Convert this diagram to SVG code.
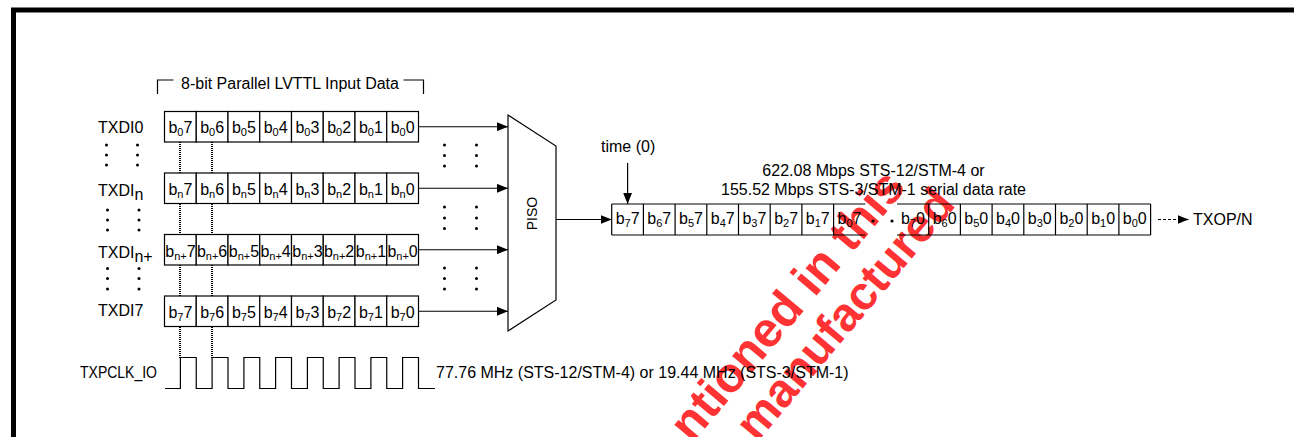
<svg xmlns="http://www.w3.org/2000/svg" width="1294" height="437" viewBox="0 0 1294 437">
<defs>
<style>
text{font-family:"Liberation Sans",Arial,sans-serif;font-size:16px;fill:#000}
.c{text-anchor:middle}
.s{font-size:11px}
.sm{font-size:14px}
.cell{fill:#fff;stroke:#000;stroke-width:1.2}
.ln{fill:none;stroke:#000;stroke-width:1.2}
.dot{fill:#000}
.vd{stroke:#000;stroke-width:2;stroke-dasharray:1 1;shape-rendering:crispEdges}
.wm{font-family:"Liberation Sans",Arial,sans-serif;font-weight:bold;font-size:47px;fill:#ff3333}
</style>
<marker id="ah" viewBox="0 0 10 8" refX="10" refY="4" markerWidth="11" markerHeight="9" markerUnits="userSpaceOnUse" orient="auto"><path d="M0,0 L10,4 L0,8 Z" fill="#000"/></marker>
</defs>
<rect width="1294" height="437" fill="#fff"/>
<g id="watermark">
<text class="wm" transform="translate(692,444) rotate(-50)" style="font-size:49px">ntioned in this</text>
<text class="wm" transform="translate(757,443) rotate(-50)">manufactured</text>
</g>
<path d="M13.5 437 V10 H1294" fill="none" stroke="#000" stroke-width="5"/>
<g id="title">
<path class="ln" d="M157.5 94 V80 H173.5 M403.5 80 H423.5 V94"/>
<text class="c" x="290" y="88.5">8-bit Parallel LVTTL Input Data</text>
</g>
<g id="labels">
<text x="98" y="133.3">TXDI0</text>
<text x="98" y="196">TXDI<tspan dy="4">n</tspan></text>
<text x="98" y="257.5">TXDI<tspan dy="4">n+</tspan></text>
<text x="98" y="315.5">TXDI7</text>
<text x="80" y="378" textLength="77" lengthAdjust="spacingAndGlyphs">TXPCLK_IO</text>
</g>
<g id="left-dots" class="dot">
<circle cx="106.5" cy="145" r="1.5"/><circle cx="106.5" cy="155" r="1.5"/><circle cx="106.5" cy="165" r="1.5"/>
<circle cx="137.5" cy="145" r="1.5"/><circle cx="137.5" cy="155" r="1.5"/><circle cx="137.5" cy="165" r="1.5"/>
<circle cx="107.5" cy="210" r="1.5"/><circle cx="107.5" cy="220" r="1.5"/><circle cx="107.5" cy="230" r="1.5"/>
<circle cx="139" cy="210" r="1.5"/><circle cx="139" cy="220" r="1.5"/><circle cx="139" cy="230" r="1.5"/>
<circle cx="107.5" cy="268.5" r="1.5"/><circle cx="107.5" cy="278.5" r="1.5"/><circle cx="107.5" cy="289" r="1.5"/>
<circle cx="139" cy="268.5" r="1.5"/><circle cx="139" cy="278.5" r="1.5"/><circle cx="139" cy="289" r="1.5"/>
</g>
<g id="right-dots" class="dot">
<circle cx="444.5" cy="145" r="1.5"/><circle cx="444.5" cy="155.5" r="1.5"/><circle cx="444.5" cy="166" r="1.5"/>
<circle cx="476.5" cy="145" r="1.5"/><circle cx="476.5" cy="155.5" r="1.5"/><circle cx="476.5" cy="166" r="1.5"/>
<circle cx="444.5" cy="207" r="1.5"/><circle cx="444.5" cy="218" r="1.5"/><circle cx="444.5" cy="228.5" r="1.5"/>
<circle cx="476.5" cy="207" r="1.5"/><circle cx="476.5" cy="218" r="1.5"/><circle cx="476.5" cy="228.5" r="1.5"/>
<circle cx="444.5" cy="268" r="1.5"/><circle cx="444.5" cy="278.5" r="1.5"/><circle cx="444.5" cy="289" r="1.5"/>
<circle cx="476.5" cy="268" r="1.5"/><circle cx="476.5" cy="278.5" r="1.5"/><circle cx="476.5" cy="289" r="1.5"/>
</g>
<g id="row-TXDI0">
<rect class="cell" x="164.5" y="111.5" width="31.75" height="30.5"/><rect class="cell" x="196.25" y="111.5" width="31.75" height="30.5"/><rect class="cell" x="228" y="111.5" width="31.75" height="30.5"/><rect class="cell" x="259.75" y="111.5" width="31.75" height="30.5"/><rect class="cell" x="291.5" y="111.5" width="31.75" height="30.5"/><rect class="cell" x="323.25" y="111.5" width="31.75" height="30.5"/><rect class="cell" x="355" y="111.5" width="31.75" height="30.5"/><rect class="cell" x="386.75" y="111.5" width="31.75" height="30.5"/>
<text class="c" x="180.4" y="133.3">b<tspan class="s" dy="3">0</tspan><tspan dy="-3">7</tspan></text>
<text class="c" x="212.1" y="133.3">b<tspan class="s" dy="3">0</tspan><tspan dy="-3">6</tspan></text>
<text class="c" x="243.9" y="133.3">b<tspan class="s" dy="3">0</tspan><tspan dy="-3">5</tspan></text>
<text class="c" x="275.6" y="133.3">b<tspan class="s" dy="3">0</tspan><tspan dy="-3">4</tspan></text>
<text class="c" x="307.4" y="133.3">b<tspan class="s" dy="3">0</tspan><tspan dy="-3">3</tspan></text>
<text class="c" x="339.1" y="133.3">b<tspan class="s" dy="3">0</tspan><tspan dy="-3">2</tspan></text>
<text class="c" x="370.9" y="133.3">b<tspan class="s" dy="3">0</tspan><tspan dy="-3">1</tspan></text>
<text class="c" x="402.6" y="133.3">b<tspan class="s" dy="3">0</tspan><tspan dy="-3">0</tspan></text>
</g>
<g id="row-TXDIn">
<rect class="cell" x="164.5" y="173" width="31.75" height="30.5"/><rect class="cell" x="196.25" y="173" width="31.75" height="30.5"/><rect class="cell" x="228" y="173" width="31.75" height="30.5"/><rect class="cell" x="259.75" y="173" width="31.75" height="30.5"/><rect class="cell" x="291.5" y="173" width="31.75" height="30.5"/><rect class="cell" x="323.25" y="173" width="31.75" height="30.5"/><rect class="cell" x="355" y="173" width="31.75" height="30.5"/><rect class="cell" x="386.75" y="173" width="31.75" height="30.5"/>
<text class="c" x="180.4" y="195">b<tspan class="s" dy="3">n</tspan><tspan dy="-3">7</tspan></text>
<text class="c" x="212.1" y="195">b<tspan class="s" dy="3">n</tspan><tspan dy="-3">6</tspan></text>
<text class="c" x="243.9" y="195">b<tspan class="s" dy="3">n</tspan><tspan dy="-3">5</tspan></text>
<text class="c" x="275.6" y="195">b<tspan class="s" dy="3">n</tspan><tspan dy="-3">4</tspan></text>
<text class="c" x="307.4" y="195">b<tspan class="s" dy="3">n</tspan><tspan dy="-3">3</tspan></text>
<text class="c" x="339.1" y="195">b<tspan class="s" dy="3">n</tspan><tspan dy="-3">2</tspan></text>
<text class="c" x="370.9" y="195">b<tspan class="s" dy="3">n</tspan><tspan dy="-3">1</tspan></text>
<text class="c" x="402.6" y="195">b<tspan class="s" dy="3">n</tspan><tspan dy="-3">0</tspan></text>
</g>
<g id="row-TXDIn-plus">
<rect class="cell" x="164.5" y="234.5" width="31.75" height="30.5"/><rect class="cell" x="196.25" y="234.5" width="31.75" height="30.5"/><rect class="cell" x="228" y="234.5" width="31.75" height="30.5"/><rect class="cell" x="259.75" y="234.5" width="31.75" height="30.5"/><rect class="cell" x="291.5" y="234.5" width="31.75" height="30.5"/><rect class="cell" x="323.25" y="234.5" width="31.75" height="30.5"/><rect class="cell" x="355" y="234.5" width="31.75" height="30.5"/><rect class="cell" x="386.75" y="234.5" width="31.75" height="30.5"/>
<text class="c" x="180.4" y="256.5">b<tspan class="s" dy="3">n+</tspan><tspan dy="-3">7</tspan></text>
<text class="c" x="212.1" y="256.5">b<tspan class="s" dy="3">n+</tspan><tspan dy="-3">6</tspan></text>
<text class="c" x="243.9" y="256.5">b<tspan class="s" dy="3">n+</tspan><tspan dy="-3">5</tspan></text>
<text class="c" x="275.6" y="256.5">b<tspan class="s" dy="3">n+</tspan><tspan dy="-3">4</tspan></text>
<text class="c" x="307.4" y="256.5">b<tspan class="s" dy="3">n+</tspan><tspan dy="-3">3</tspan></text>
<text class="c" x="339.1" y="256.5">b<tspan class="s" dy="3">n+</tspan><tspan dy="-3">2</tspan></text>
<text class="c" x="370.9" y="256.5">b<tspan class="s" dy="3">n+</tspan><tspan dy="-3">1</tspan></text>
<text class="c" x="402.6" y="256.5">b<tspan class="s" dy="3">n+</tspan><tspan dy="-3">0</tspan></text>
</g>
<g id="row-TXDI7">
<rect class="cell" x="164.5" y="296" width="31.75" height="30.5"/><rect class="cell" x="196.25" y="296" width="31.75" height="30.5"/><rect class="cell" x="228" y="296" width="31.75" height="30.5"/><rect class="cell" x="259.75" y="296" width="31.75" height="30.5"/><rect class="cell" x="291.5" y="296" width="31.75" height="30.5"/><rect class="cell" x="323.25" y="296" width="31.75" height="30.5"/><rect class="cell" x="355" y="296" width="31.75" height="30.5"/><rect class="cell" x="386.75" y="296" width="31.75" height="30.5"/>
<text class="c" x="180.4" y="318">b<tspan class="s" dy="3">7</tspan><tspan dy="-3">7</tspan></text>
<text class="c" x="212.1" y="318">b<tspan class="s" dy="3">7</tspan><tspan dy="-3">6</tspan></text>
<text class="c" x="243.9" y="318">b<tspan class="s" dy="3">7</tspan><tspan dy="-3">5</tspan></text>
<text class="c" x="275.6" y="318">b<tspan class="s" dy="3">7</tspan><tspan dy="-3">4</tspan></text>
<text class="c" x="307.4" y="318">b<tspan class="s" dy="3">7</tspan><tspan dy="-3">3</tspan></text>
<text class="c" x="339.1" y="318">b<tspan class="s" dy="3">7</tspan><tspan dy="-3">2</tspan></text>
<text class="c" x="370.9" y="318">b<tspan class="s" dy="3">7</tspan><tspan dy="-3">1</tspan></text>
<text class="c" x="402.6" y="318">b<tspan class="s" dy="3">7</tspan><tspan dy="-3">0</tspan></text>
</g>
<g id="clock">
<path class="ln" d="M165 388.5 H180.4 V357.5 H196.25 V388.5 H212.1 V357.5 H228 V388.5 H243.9 V357.5 H259.75 V388.5 H275.6 V357.5 H291.5 V388.5 H307.4 V357.5 H323.25 V388.5 H339.1 V357.5 H355 V388.5 H370.9 V357.5 H386.75 V388.5 H402.6 V357.5 H418.5 V388.5 H435"/>
<text x="436" y="378">77.76 MHz (STS-12/STM-4) or 19.44 MHz (STS-3/STM-1)</text>
</g>
<g id="PISO">
<path class="ln" d="M508 115 L556 146 V300 L508 331 Z" fill="#fff"/>
<text class="c sm" transform="translate(536.5 213.5) rotate(-90)">PISO</text>
</g>
<g id="serial">
<path class="ln" d="M611.7 204 H865.3 M611.7 235 H865.3 M611.7 204 V235 M643.4 204 V235 M675.1 204 V235 M706.8 204 V235 M738.5 204 V235 M770.2 204 V235 M801.9 204 V235 M833.6 204 V235"/>
<path class="ln" d="M897 204 H1150.6 M897 235 H1150.6 M928.7 204 V235 M960.4 204 V235 M992.1 204 V235 M1023.8 204 V235 M1055.5 204 V235 M1087.2 204 V235 M1118.9 204 V235 M1150.6 204 V235"/>
<circle class="dot" cx="873" cy="221" r="1.6"/><circle class="dot" cx="892" cy="221" r="1.6"/>
<text class="c" x="627.6" y="224">b<tspan class="s" dy="3">7</tspan><tspan dy="-3">7</tspan></text>
<text class="c" x="659.3" y="224">b<tspan class="s" dy="3">6</tspan><tspan dy="-3">7</tspan></text>
<text class="c" x="691" y="224">b<tspan class="s" dy="3">5</tspan><tspan dy="-3">7</tspan></text>
<text class="c" x="722.7" y="224">b<tspan class="s" dy="3">4</tspan><tspan dy="-3">7</tspan></text>
<text class="c" x="754.4" y="224">b<tspan class="s" dy="3">3</tspan><tspan dy="-3">7</tspan></text>
<text class="c" x="786.1" y="224">b<tspan class="s" dy="3">2</tspan><tspan dy="-3">7</tspan></text>
<text class="c" x="817.8" y="224">b<tspan class="s" dy="3">1</tspan><tspan dy="-3">7</tspan></text>
<text class="c" x="849.5" y="224">b<tspan class="s" dy="3">0</tspan><tspan dy="-3">7</tspan></text>
<text class="c" x="912.9" y="224">b<tspan class="s" dy="3">7</tspan><tspan dy="-3">0</tspan></text>
<text class="c" x="944.6" y="224">b<tspan class="s" dy="3">6</tspan><tspan dy="-3">0</tspan></text>
<text class="c" x="976.3" y="224">b<tspan class="s" dy="3">5</tspan><tspan dy="-3">0</tspan></text>
<text class="c" x="1008" y="224">b<tspan class="s" dy="3">4</tspan><tspan dy="-3">0</tspan></text>
<text class="c" x="1039.7" y="224">b<tspan class="s" dy="3">3</tspan><tspan dy="-3">0</tspan></text>
<text class="c" x="1071.4" y="224">b<tspan class="s" dy="3">2</tspan><tspan dy="-3">0</tspan></text>
<text class="c" x="1103.1" y="224">b<tspan class="s" dy="3">1</tspan><tspan dy="-3">0</tspan></text>
<text class="c" x="1134.8" y="224">b<tspan class="s" dy="3">0</tspan><tspan dy="-3">0</tspan></text>
<text class="c" x="873.5" y="176">622.08 Mbps STS-12/STM-4 or</text>
<text class="c" x="873.5" y="194.5">155.52 Mbps STS-3/STM-1 serial data rate</text>
<text x="601" y="152">time (0)</text>
<text x="1193" y="225">TXOP/N</text>
</g>
<g id="connectors">
<line class="ln" x1="418.5" y1="126.75" x2="508" y2="126.75" marker-end="url(#ah)"/>
<line class="ln" x1="418.5" y1="188.25" x2="508" y2="188.25" marker-end="url(#ah)"/>
<line class="ln" x1="418.5" y1="249.75" x2="508" y2="249.75" marker-end="url(#ah)"/>
<line class="ln" x1="418.5" y1="311.25" x2="508" y2="311.25" marker-end="url(#ah)"/>
<line class="ln" x1="556" y1="219.5" x2="611.7" y2="219.5" marker-end="url(#ah)"/>
<line class="ln" x1="627.6" y1="163" x2="627.6" y2="204" marker-end="url(#ah)"/>
<line class="ln" x1="1158" y1="219.5" x2="1180" y2="219.5" stroke-dasharray="3 2"/>
<line class="ln" x1="1178" y1="219.5" x2="1188.5" y2="219.5" marker-end="url(#ah)"/>
<path class="vd" d="M180 142 V173 M212 142 V173 M180 203.5 V234.5 M212 203.5 V234.5 M180 265 V296 M212 265 V296 M180 326.5 V357.5 M212 326.5 V357.5"/>
</g>
</svg>
